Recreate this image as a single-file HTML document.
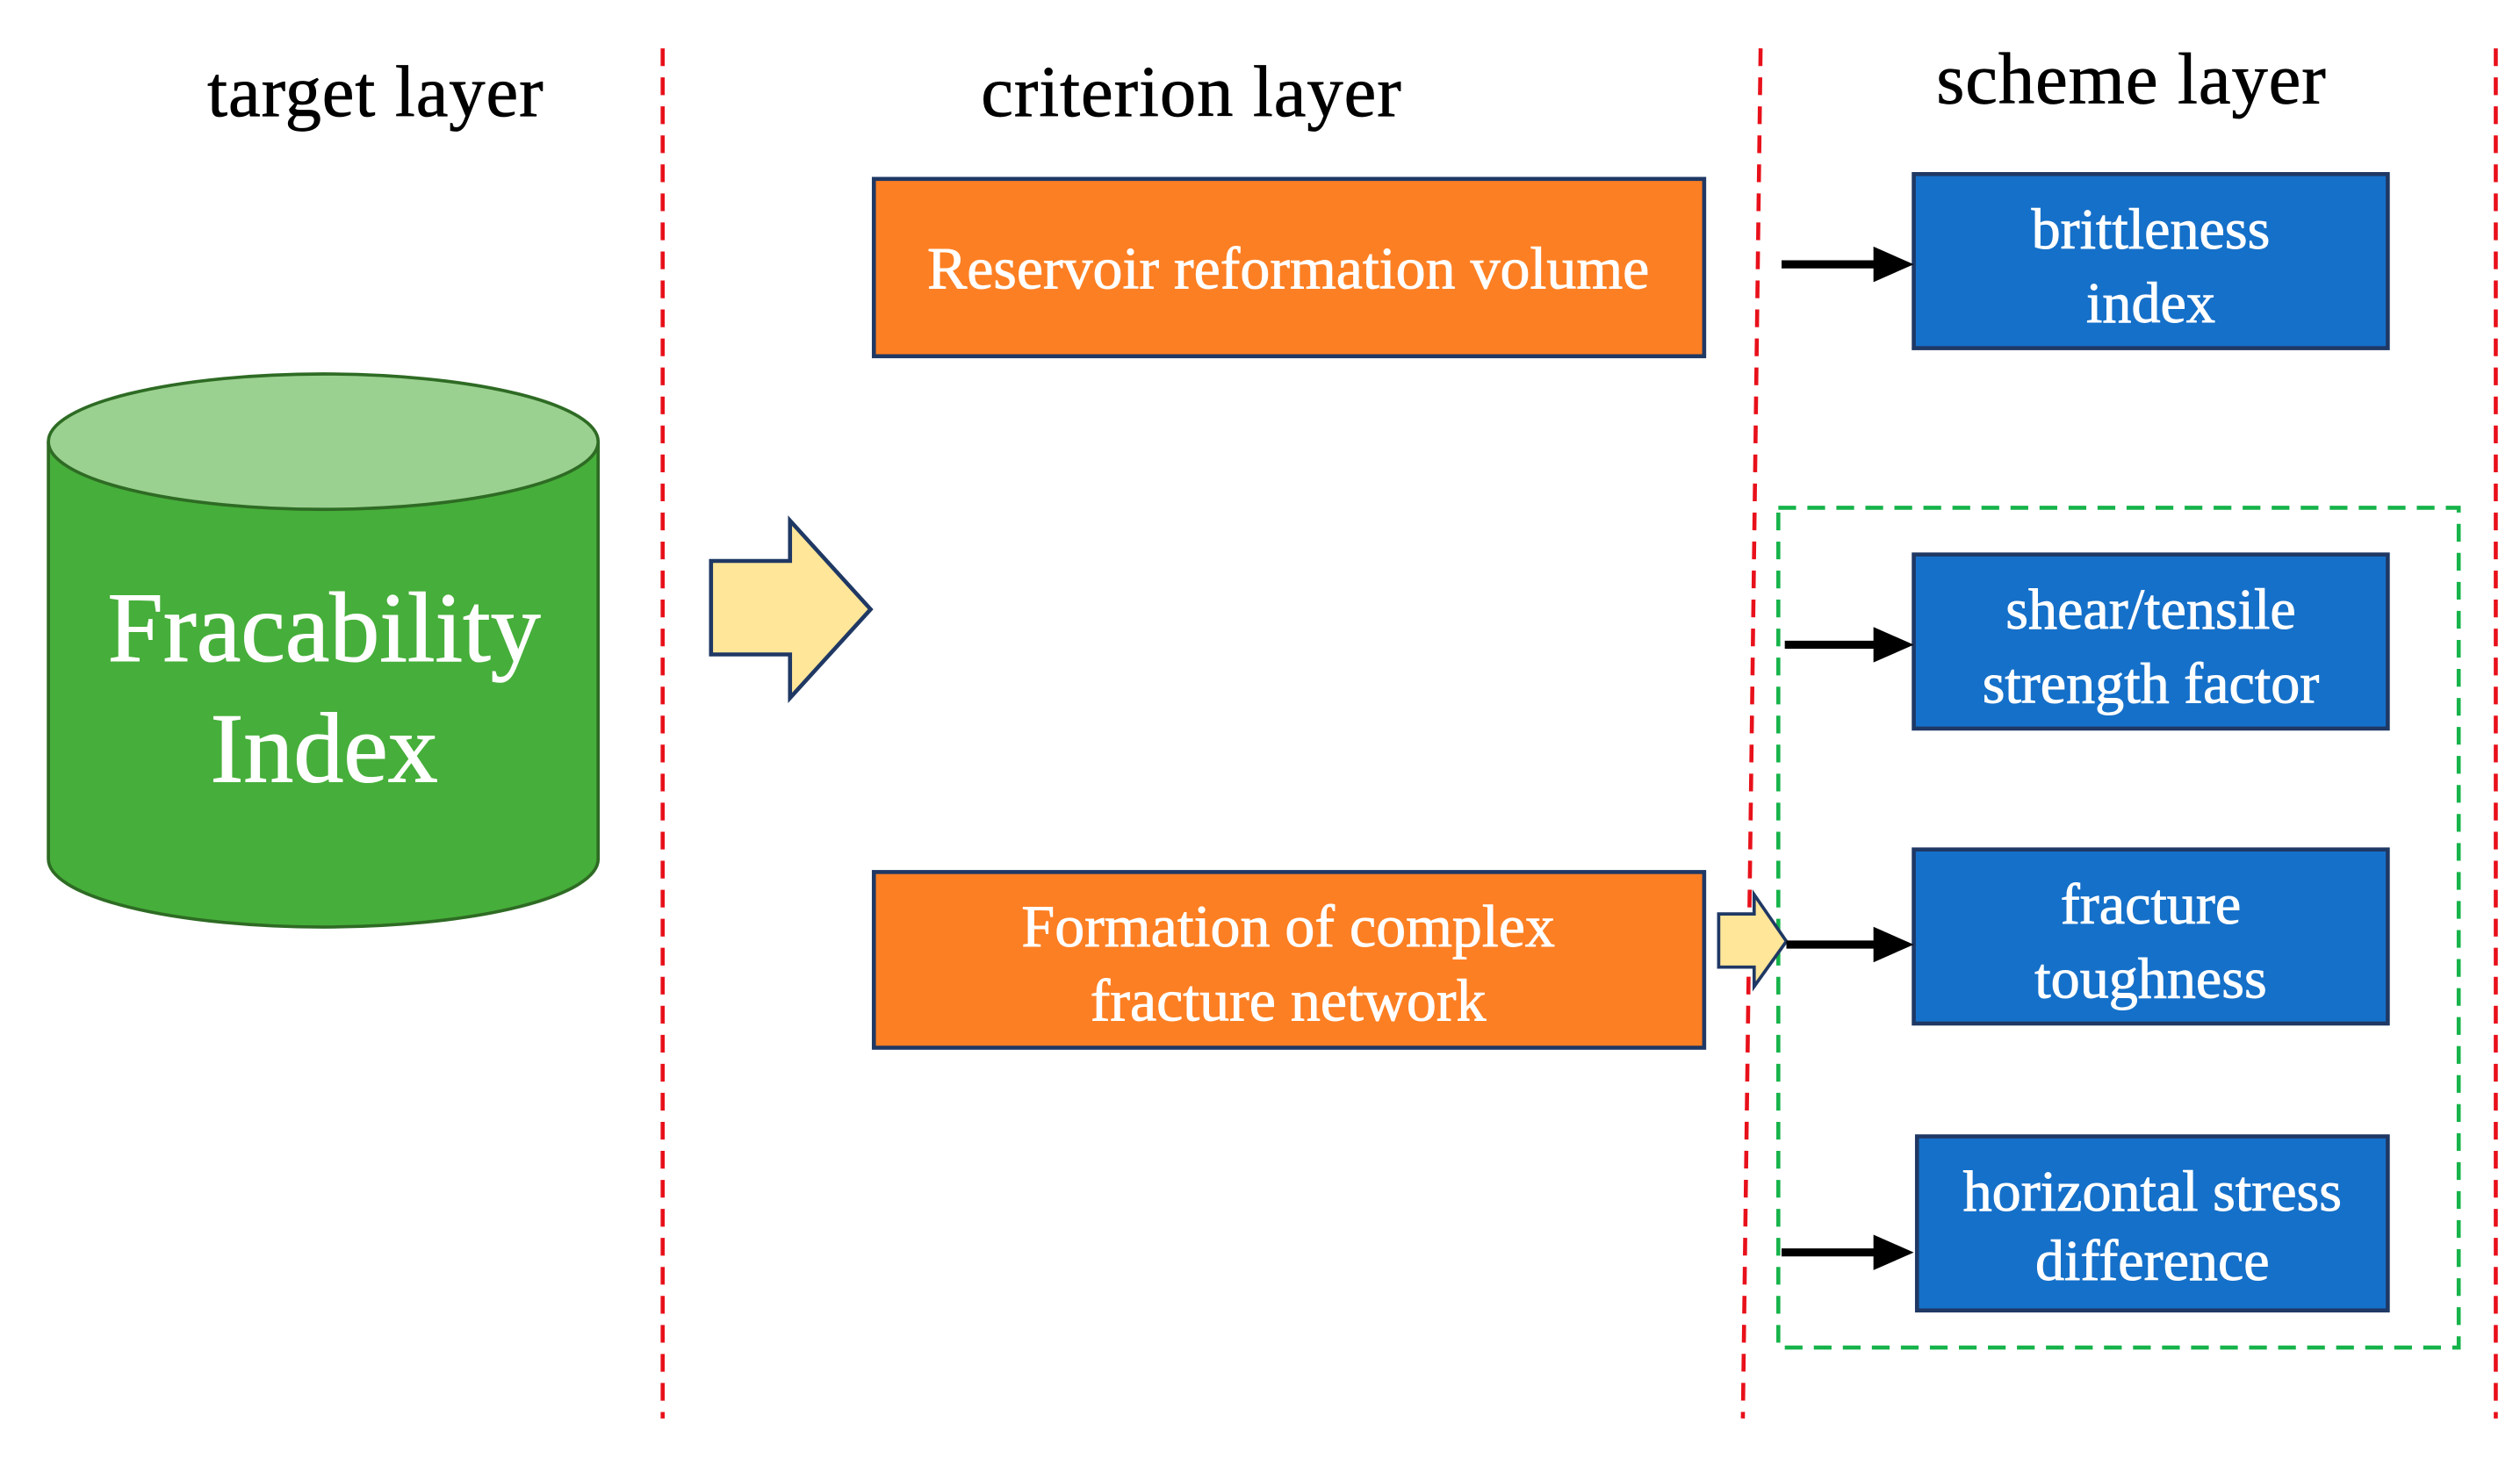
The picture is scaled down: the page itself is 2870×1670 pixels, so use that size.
<!DOCTYPE html>
<html><head><meta charset="utf-8"><style>html,body{margin:0;padding:0;background:#fff}svg{display:block}</style></head>
<body>
<svg width="2870" height="1670" viewBox="0 0 1563 909.5" xmlns="http://www.w3.org/2000/svg" font-family="Liberation Serif, serif">
<rect width="1563" height="910" fill="#fff"/>
<g stroke="#e8101a" stroke-width="2.5" stroke-dasharray="11,7" fill="none">
<line x1="411" y1="30" x2="411" y2="880"/>
<line x1="1092" y1="30" x2="1081" y2="880"/>
<line x1="1548" y1="30" x2="1548" y2="880"/>
</g>
<g font-size="45" fill="#000" text-anchor="middle" stroke="#000" stroke-width="0.4">
<text x="233" y="72" letter-spacing="0.5">target  layer</text>
<text x="739" y="72" letter-spacing="0.5">criterion  layer</text>
<text x="1322" y="64" letter-spacing="0.5">scheme  layer</text>
</g>
<path d="M30,274 L30,533 A170,42 0 0 0 371,533 L371,274" fill="#46ae3a" stroke="#2e6b24" stroke-width="2"/>
<ellipse cx="200.5" cy="274" rx="170.5" ry="42" fill="#9bd190" stroke="#2e6b24" stroke-width="2"/>
<g font-size="62" fill="#fff" text-anchor="middle" stroke="#fff" stroke-width="0.6">
<text x="201" y="410">Fracability</text>
<text x="201" y="485">Index</text>
</g>
<polygon points="441,348 490,348 490,323 540,378 490,433 490,406 441,406" fill="#ffe699" stroke="#1f3864" stroke-width="2.5"/>
<rect x="542" y="111" width="515" height="110" fill="#fd7f23" stroke="#1f3864" stroke-width="2.5"/>
<rect x="542" y="541" width="515" height="109" fill="#fd7f23" stroke="#1f3864" stroke-width="2.5"/>
<g font-size="37" fill="#fff" text-anchor="middle" stroke="#fff" stroke-width="0.5">
<text x="799" y="179">Reservoir reformation volume</text>
<text x="799" y="587">Formation of complex</text>
<text x="799" y="633">fracture network</text>
</g>
<rect x="1103" y="315" width="422" height="521" fill="none" stroke="#16b34a" stroke-width="2.5" stroke-dasharray="11,7"/>
<g fill="#1570c9" stroke="#1f3864" stroke-width="2.5">
<rect x="1187" y="108" width="294" height="108"/>
<rect x="1187" y="344" width="294" height="108"/>
<rect x="1187" y="527" width="294" height="108"/>
<rect x="1189" y="705" width="292" height="108"/>
</g>
<g font-size="36" fill="#fff" text-anchor="middle" stroke="#fff" stroke-width="0.5">
<text x="1334" y="154">brittleness</text>
<text x="1334" y="200">index</text>
<text x="1334" y="390">shear/tensile</text>
<text x="1334" y="436">strength factor</text>
<text x="1334" y="573">fracture</text>
<text x="1334" y="619">toughness</text>
<text x="1335" y="751">horizontal  stress</text>
<text x="1335" y="794">difference</text>
</g>
<polygon points="1066,567 1088,567 1088,555 1108,584 1088,612 1088,600 1066,600" fill="#ffe699" stroke="#1f3864" stroke-width="2"/>
<g stroke="#000" stroke-width="5">
<line x1="1105" y1="164" x2="1165" y2="164"/>
<line x1="1107" y1="400" x2="1165" y2="400"/>
<line x1="1108" y1="586" x2="1165" y2="586"/>
<line x1="1105" y1="777" x2="1165" y2="777"/>
</g>
<g fill="#000">
<polygon points="1162,153 1187,164 1162,175"/>
<polygon points="1162,389 1187,400 1162,411"/>
<polygon points="1162,575 1187,586 1162,597"/>
<polygon points="1162,766 1187,777 1162,788"/>
</g>
</svg>
</body></html>
